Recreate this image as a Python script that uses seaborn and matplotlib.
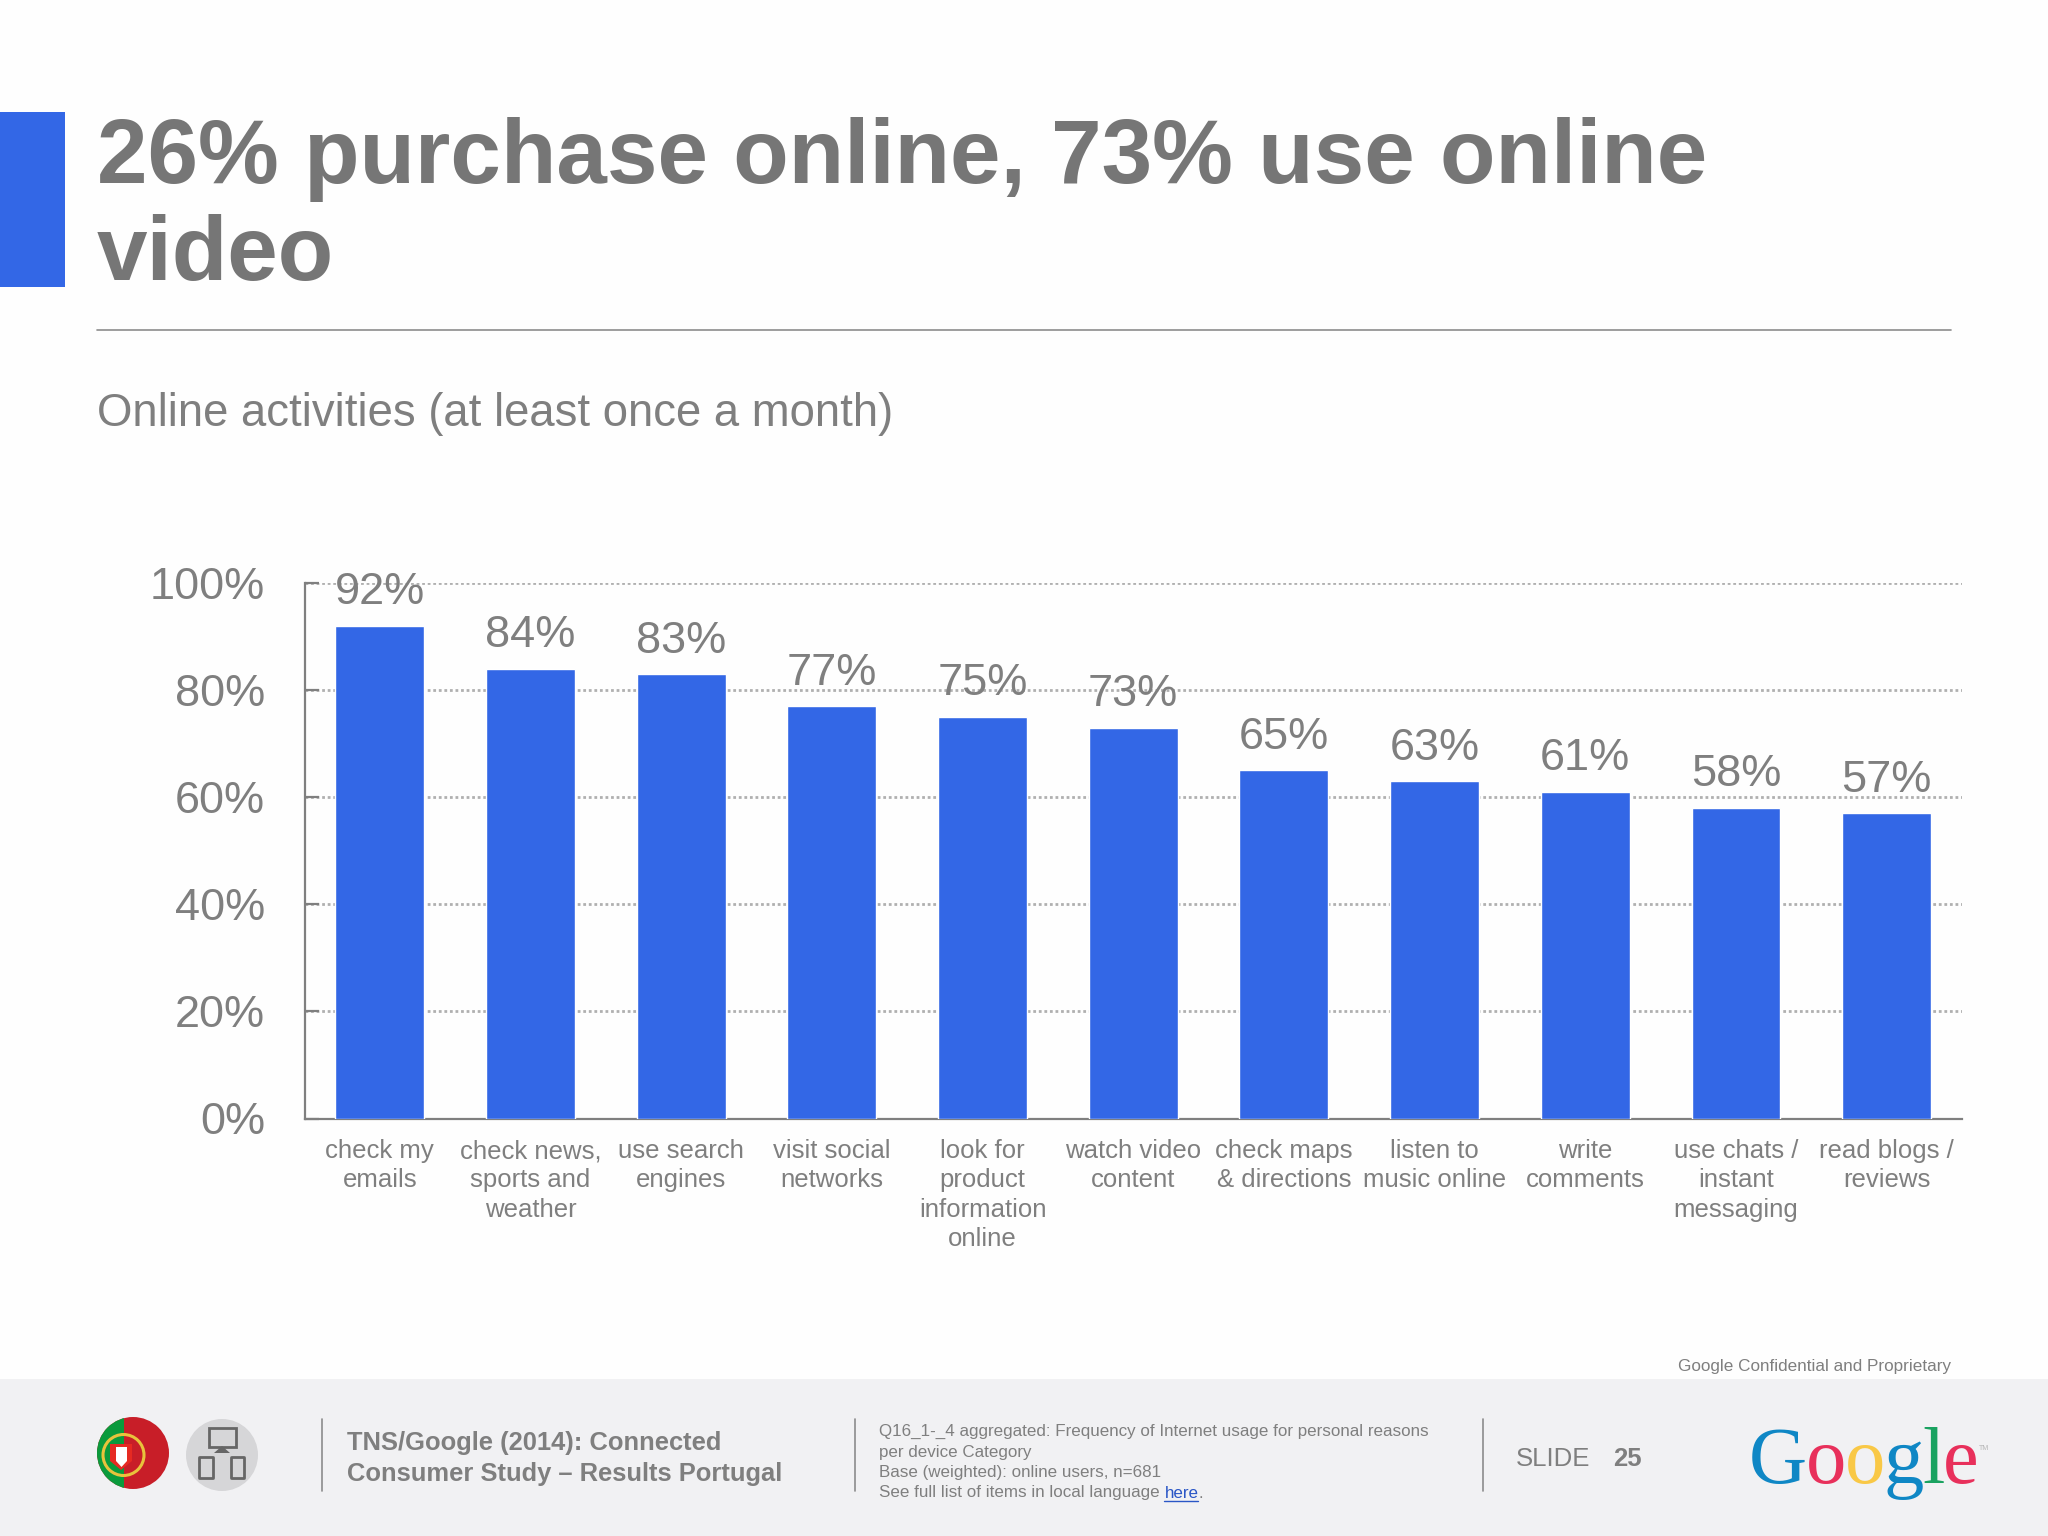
import matplotlib
matplotlib.use('Agg')
import matplotlib.pyplot as plt
from matplotlib.patches import Circle, Rectangle, Polygon, FancyBboxPatch
import pandas as pd
import seaborn as sns

# Chart data
categories = ['check my\nemails', 'check news,\nsports and\nweather', 'use search\nengines',
              'visit social\nnetworks', 'look for\nproduct\ninformation\nonline', 'watch video\ncontent',
              'check maps\n& directions', 'listen to\nmusic online', 'write\ncomments',
              'use chats /\ninstant\nmessaging', 'read blogs /\nreviews']
values = [92, 84, 83, 77, 75, 73, 65, 63, 61, 58, 57]
y_ticks = [0, 20, 40, 60, 80, 100]

title_lines = ['26% purchase online, 73% use online', 'video']
subtitle = 'Online activities (at least once a month)'
source_lines = ['TNS/Google (2014): Connected', 'Consumer Study \u2013 Results Portugal']
note_lines = ['Q16_1-_4 aggregated: Frequency of Internet usage for personal reasons',
              'per device Category', 'Base (weighted): online users, n=681',
              'See full list of items in local language ']
logo_letters = ['G', 'o', 'o', 'g', 'l', 'e']
logo_colors = ['#0F87C5', '#E8305B', '#F9C846', '#0F87C5', '#1AA260', '#E8305B']

BLUE = '#3367E6'
GREY = '#7F7F7F'
W, H = 2048, 1536

sns.set_theme(style='white')
plt.rcParams['font.family'] = ['Liberation Sans', 'DejaVu Sans']

fig = plt.figure(figsize=(W / 100, H / 100), dpi=100, facecolor='#FEFEFE')

# Overlay in pixel coordinates for the slide furniture
bg = fig.add_axes([0, 0, 1, 1], zorder=0)
bg.set_xlim(0, W)
bg.set_ylim(H, 0)
bg.axis('off')

# Bar chart
ax = fig.add_axes([304.5 / W, (H - 1118.5) / H, (1962 - 304.5) / W, (1118.5 - 583) / H], zorder=1)
ax.patch.set_alpha(0)
df = pd.DataFrame({'activity': categories, 'share': values})
sns.barplot(data=df, x='activity', y='share', color=BLUE, saturation=1, width=0.59, ax=ax, zorder=3)
ax.set_xlim(-0.5, 10.5)
ax.set_ylim(0, 100)
ax.set_xlabel('')
ax.set_ylabel('')
ax.set_yticks(y_ticks)
ax.set_yticklabels([f'{v}%' for v in y_ticks], fontsize=32.5, color=GREY)
ax.tick_params(axis='y', direction='in', length=10, width=1.6, color=GREY, pad=28.5, left=True)
ax.tick_params(axis='x', length=0, pad=15, labelsize=18.5, labelcolor=GREY)
for lab in ax.get_xticklabels():
    lab.set_linespacing(1.27)
ax.grid(axis='y', color='#B0B0B0', linestyle=(0, (1, 1)), linewidth=2, zorder=1)
ax.set_axisbelow(True)
sns.despine(ax=ax, top=True, right=True)
for side in ['left', 'bottom']:
    ax.spines[side].set_color(GREY)
    ax.spines[side].set_linewidth(1.6)
for bars in ax.containers:
    ax.bar_label(bars, labels=[f'{v}%' for v in values], fontsize=32.5, color=GREY, padding=9, zorder=5)

# Header
bg.add_patch(Rectangle((0, 112), 65, 175, color=BLUE, lw=0))
for line, y in zip(title_lines, [183.5, 280]):
    bg.text(97, y, line, fontsize=65.4, fontweight='bold', color='#767676', va='baseline')
bg.plot([97, 1951], [330, 330], color='#8C8C8C', lw=1.2)
bg.text(97, 414, subtitle, fontsize=32.8, color=GREY, va='center')

# Footer
bg.add_patch(Rectangle((0, 1379), W, H - 1379, color='#F1F1F3', lw=0))
bg.text(1951, 1367, 'Google Confidential and Proprietary', fontsize=12.35, color=GREY, ha='right', va='center')
for x in [322, 855, 1483]:
    bg.plot([x, x], [1419, 1491], color='#8C8C8C', lw=1.2)
for line, y in zip(source_lines, [1443, 1474]):
    bg.text(347, y, line, fontsize=18.4, fontweight='bold', color=GREY, va='center')
for line, y in zip(note_lines, [1431, 1452, 1473, 1493]):
    last = bg.text(879, y, line, fontsize=12.25, color=GREY, va='center')
bg.text(1516, 1459, 'SLIDE', fontsize=18.5, color=GREY, va='center')
bg.text(1613, 1459, '25', fontsize=18.5, fontweight='bold', color=GREY, va='center')

# Link text after the last note line
fig.canvas.draw()
renderer = fig.canvas.get_renderer()
inv = bg.transData.inverted()
x_end = inv.transform(last.get_window_extent(renderer))[1, 0]
link = bg.text(x_end, 1493, 'here', fontsize=12.25, color='#2A56C6', va='center')
link_box = inv.transform(link.get_window_extent(renderer))
bg.plot([link_box[0, 0], link_box[1, 0]], [1501, 1501], color='#2A56C6', lw=1)
bg.text(link_box[1, 0], 1493, '.', fontsize=12.25, color=GREY, va='center')

# Logo letters, each placed after the previous one
x = 1749
for letter, color in zip(logo_letters, logo_colors):
    t = bg.text(x, 1483, letter, fontsize=58, family='Liberation Serif', color=color, va='baseline')
    x += t.get_window_extent(renderer).width - 1.5
bg.text(x + 2, 1449, 'TM', fontsize=5, color='#B5B5B5', va='center')

# Portugal flag icon
disc = Circle((133, 1453), 36, color='#C81E28', lw=0)
bg.add_patch(disc)
green = Rectangle((90, 1410), 34, 90, color='#0B9A3C', lw=0)
bg.add_patch(green)
green.set_clip_path(disc)
bg.add_patch(Circle((123.5, 1455), 20.5, fill=False, ec='#E8C33C', lw=2.2))
bg.add_patch(Polygon([(110, 1444), (132, 1444), (132, 1461), (121, 1470), (110, 1461)], color='#E62A22', lw=0))
bg.add_patch(Polygon([(116, 1447), (127, 1447), (127, 1461), (121.5, 1467), (116, 1461)], color='white', lw=0))

# Devices icon
bg.add_patch(Circle((222, 1455), 36, color='#D6D6D8', lw=0))
bg.add_patch(Rectangle((209, 1428), 27, 19, fill=False, ec='#666666', lw=2))
bg.add_patch(Polygon([(222, 1446), (230, 1453), (214, 1453)], color='#666666', lw=0))
bg.add_patch(FancyBboxPatch((200, 1458), 13, 20, boxstyle='round,pad=0.5', fill=False, ec='#666666', lw=2))
bg.add_patch(FancyBboxPatch((232, 1458), 12, 20, boxstyle='round,pad=0.5', fill=False, ec='#666666', lw=2))

bg.set_xlim(0, W)
bg.set_ylim(H, 0)
fig.savefig('out.png', dpi=100, facecolor=fig.get_facecolor())
